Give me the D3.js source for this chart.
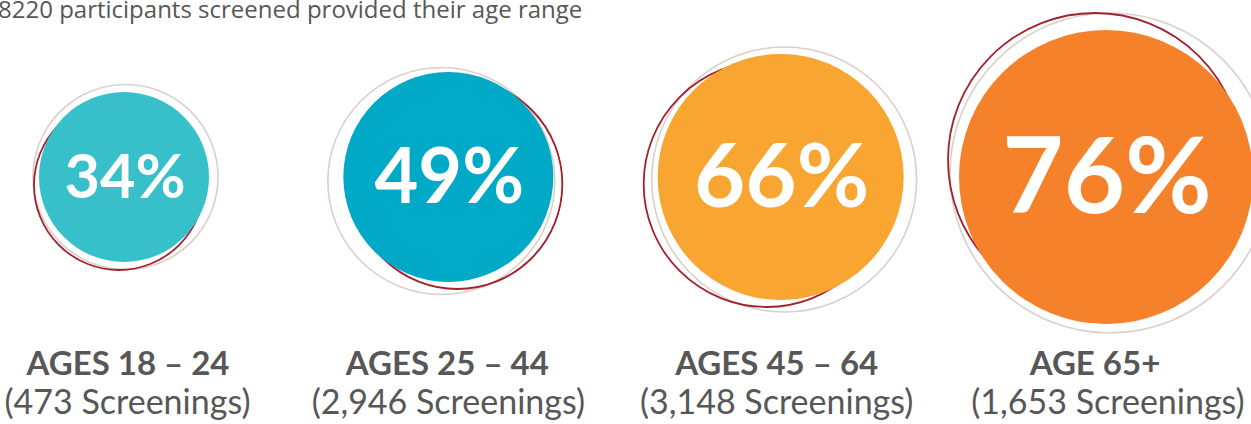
<!DOCTYPE html>
<html><head><meta charset="utf-8">
<script src="https://cdn.jsdelivr.net/npm/d3@7"></script>
<style>
html,body{margin:0;padding:0;background:#fff;overflow:hidden;}
svg{display:block;}
</style></head>
<body>
<svg id="chart" width="1251" height="424"></svg>
<script>
// ---- data ----
const title = "8220 participants screened provided their age range";
const categories = ["AGES 18 – 24", "AGES 25 – 44", "AGES 45 – 64", "AGE 65+"];
const percents = [34, 49, 66, 76];
const screenings = [473, 2946, 3148, 1653];

// ---- styles / layout tweaks ----
const fills = ["#37c0c9", "#00a9c6", "#f8a532", "#f5822a"];
const textColor = "#575757";
const centerShift = [0, -3, 2, 0];
// decorative ring offsets (dx, dy, extra radius)
const grayRing = [[1.5, 0, 7.5], [-7, 4, 8.5], [3.5, 2.5, 9.5], [4, -4, 13]];
const redRing = [[-5, 8, 0], [9, 7, 0], [-14, 7, 0], [-11, -17, 0]];
const labelShift = [[4, 3.5], [-1, 0], [-4, -4], [-11, 2]];

const svg = d3.select("#chart");
const x = d3.scalePoint().domain(categories).range([124, 1106]);
const r = d3.scaleLinear().domain([34, 49, 66, 76]).range([85, 105, 123, 147]);
const cy = 177;
const fmt = d3.format(",");

svg.append("text")
  .attr("x", -2).attr("y", 18)
  .attr("font-family", "'Open Sans', sans-serif")
  .attr("font-size", 24)
  .attr("fill", textColor)
  .text(title);

const data = categories.map((c, i) => ({c, p: percents[i], s: screenings[i], i}));
const cx = d => x(d.c) + centerShift[d.i];

const g = svg.selectAll("g.item").data(data).join("g").attr("class", "item");

g.append("circle")
  .attr("cx", d => cx(d) + grayRing[d.i][0])
  .attr("cy", d => cy + grayRing[d.i][1])
  .attr("r", d => r(d.p) + grayRing[d.i][2])
  .attr("fill", "none").attr("stroke", "#dacfcc").attr("stroke-width", 1.6);

g.append("circle")
  .attr("cx", d => cx(d) + redRing[d.i][0])
  .attr("cy", d => cy + redRing[d.i][1])
  .attr("r", d => r(d.p) + redRing[d.i][2])
  .attr("fill", "none").attr("stroke", "#a3202c").attr("stroke-width", 1.8);

g.append("circle")
  .attr("cx", cx)
  .attr("cy", cy)
  .attr("r", d => r(d.p))
  .attr("fill", d => fills[d.i]);

g.append("text")
  .attr("x", d => cx(d) + 1)
  .attr("y", d => cy + r(d.p) * 0.245)
  .attr("text-anchor", "middle")
  .attr("font-family", "Lato, sans-serif")
  .attr("font-weight", 700)
  .attr("font-size", d => r(d.p) * 0.72)
  .attr("fill", "#fff")
  .text(d => d.p + "%");

g.append("text")
  .attr("x", d => cx(d) + labelShift[d.i][0])
  .attr("y", 375)
  .attr("text-anchor", "middle")
  .attr("font-family", "Lato, sans-serif")
  .attr("font-weight", 700)
  .attr("font-size", 33)
  .attr("fill", textColor)
  .text(d => d.c);

g.append("text")
  .attr("x", d => cx(d) + labelShift[d.i][1])
  .attr("y", 414)
  .attr("text-anchor", "middle")
  .attr("font-family", "Lato, sans-serif")
  .attr("font-size", 34)
  .attr("fill", textColor)
  .text(d => "(" + fmt(d.s) + " Screenings)");
</script>
</body></html>
